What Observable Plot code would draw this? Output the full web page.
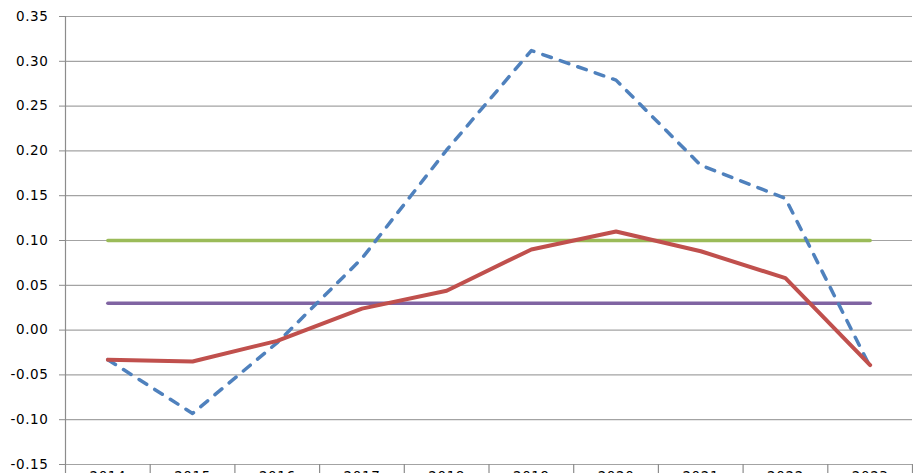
<!DOCTYPE html>
<html>
<head>
<meta charset="utf-8">
<script src="https://cdn.jsdelivr.net/npm/d3@7"></script>
<script src="https://cdn.jsdelivr.net/npm/@observablehq/plot@0.6"></script>
<style>
  html, body { margin: 0; padding: 0; background: #fff; overflow: hidden; }
  #chart svg { display: block; }
</style>
</head>
<body>
<div id="chart"></div>
<script>
// ---- data ----
const years = [2014, 2015, 2016, 2017, 2018, 2019, 2020, 2021, 2022, 2023];
const seriesBlue = [-0.033, -0.093, -0.014, 0.080, 0.201, 0.312, 0.279, 0.184, 0.147, -0.041];
const seriesRed = [-0.033, -0.035, -0.012, 0.024, 0.044, 0.090, 0.110, 0.088, 0.058, -0.039];
const seriesGreen = [0.10, 0.10, 0.10, 0.10, 0.10, 0.10, 0.10, 0.10, 0.10, 0.10];
const seriesPurple = [0.03, 0.03, 0.03, 0.03, 0.03, 0.03, 0.03, 0.03, 0.03, 0.03];
const yTicks = [-0.15, -0.10, -0.05, 0.00, 0.05, 0.10, 0.15, 0.20, 0.25, 0.30, 0.35];

const toRows = (vals) => years.map((yr, i) => ({year: yr, value: vals[i]}));
const boundaries = [years[0] - 0.5, ...years.map(y => y + 0.5)];

const H = 492;
const chart = Plot.plot({
  width: 913,
  height: H,
  marginLeft: 65,
  marginRight: 1,
  marginTop: 16,
  marginBottom: H - 464,
  style: {fontFamily: "DejaVu Sans", fontSize: "13.5px", color: "#000", letterSpacing: "0.6px", background: "#fff"},
  x: {type: "linear", domain: [years[0] - 0.5, years[years.length - 1] + 0.5], label: null},
  y: {domain: [-0.15, 0.35], label: null},
  marks: [
    Plot.gridY(yTicks, {stroke: "#a3a3a3", strokeOpacity: 1, strokeWidth: 1.2}),
    Plot.axisY(yTicks, {tickFormat: d => d.toFixed(2), tickSize: 6, tickPadding: 11, stroke: "#8c8c8c", strokeOpacity: 1, fill: "#000", label: null}),
    Plot.ruleX([boundaries[0]], {stroke: "#8c8c8c", strokeWidth: 1.2}),
    Plot.axisX(boundaries, {tickFormat: () => "", tickSize: 12, stroke: "#8c8c8c", strokeOpacity: 1, strokeWidth: 1.2, label: null}),
    Plot.axisX(years, {tickFormat: d => String(d), tickSize: 0, tickPadding: 7, fill: "#000", label: null}),
    Plot.line(toRows(seriesGreen), {x: "year", y: "value", stroke: "#9BBB59", strokeWidth: 3.5}),
    Plot.line(toRows(seriesPurple), {x: "year", y: "value", stroke: "#8064A2", strokeWidth: 3.5}),
    Plot.line(toRows(seriesBlue), {x: "year", y: "value", stroke: "#4F81BD", strokeWidth: 3.5, strokeDasharray: "9,9.5", strokeLinecap: "round", strokeLinejoin: "round"}),
    Plot.line(toRows(seriesRed), {x: "year", y: "value", stroke: "#C0504D", strokeWidth: 4, strokeLinejoin: "round"})
  ]
});
document.getElementById("chart").appendChild(chart);
</script>
</body>
</html>
